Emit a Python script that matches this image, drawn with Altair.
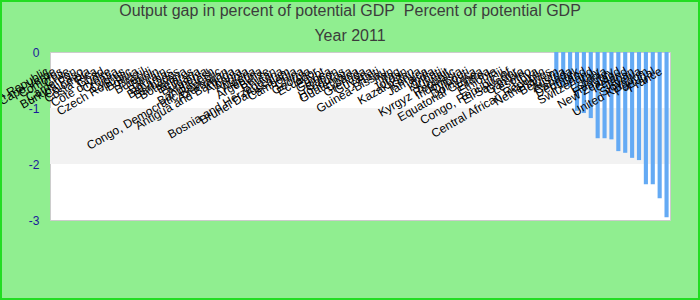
import altair as alt
import pandas as pd

# Countries without a 2011 value (shown only as labels)
no_data_countries = [
    "Dominican Republic", "Cape Verde", "Comoros", "Chile", "Cameroon",
    "Burkina Faso", "Colombia", "Costa Rica", "Chad", "Côte d'Ivoire",
    "Croatia", "Cyprus", "Czech Republic", "Bolivia", "Brazil",
    "Burundi", "Benin", "Bahrain", "Bahamas", "Barbados",
    "Botswana", "Belarus", "Bulgaria", "Armenia", "Bangladesh",
    "Congo, Democratic Republic", "Azerbaijan", "Antigua and Barbuda", "Albania", "Angola",
    "Algeria", "Argentina", "Belize", "Bhutan", "Bosnia and Herzegovina",
    "Brunei Darussalam", "Cambodia", "China", "Georgia", "Ecuador",
    "Egypt", "Guinea", "Gabon", "Honduras", "Guatemala",
    "Ghana", "Grenada", "Guyana", "Haiti", "Guinea-Bissau",
    "Iran", "Iraq", "Jordan", "Kazakhstan", "Kenya",
    "Jamaica", "India", "Kiribati", "Kuwait", "Kyrgyz Republic",
    "Indonesia", "Djibouti", "Dominica", "Equatorial Guinea", "Eritrea",
    "Ethiopia", "Fiji", "Congo, Republic of", "El Salvador", "Gambia",
    "Lesotho", "Libya", "Central African Republic",
]

# Countries with an output gap value (percent of potential GDP)
bar_countries = [
    "Netherlands", "Belgium", "Austria", "Canada", "Denmark",
    "Finland", "Switzerland", "Italy", "Estonia", "Hungary",
    "New Zealand", "Iceland", "Japan", "Slovenia", "United Kingdom",
    "Portugal", "France",
]
bar_values = [
    -0.60, -0.61, -0.62, -1.05, -1.09,
    -1.18, -1.54, -1.54, -1.56, -1.77,
    -1.80, -1.89, -1.93, -2.36, -2.36,
    -2.61, -2.95,
]

y_ticks = [0, -1, -2, -3]
band_from = [-1]
band_to = [-2]

title_text = ["Output gap in percent of potential GDP\u00a0 Percent of potential GDP"]
subtitle_text = ["Year 2011"]

countries = no_data_countries + bar_countries
df = pd.DataFrame({
    "country": countries,
    "gap": [None] * len(no_data_countries) + bar_values,
})
bands = pd.DataFrame({"y1": band_from, "y2": band_to})
title_df = pd.DataFrame({"t": title_text})
subtitle_df = pd.DataFrame({"t": subtitle_text})

FONT = "Liberation Sans"

x_scale = alt.Scale(domain=countries, paddingInner=0.4, paddingOuter=0.2)
y_scale = alt.Scale(domain=[-3, 0], nice=False, zero=True)
y_axis = alt.Axis(
    values=y_ticks, labelExpr="'' + datum.value", labelColor="#1a1a9a",
    labelFontSize=12, labelFont=FONT, ticks=False, tickSize=0, domain=False,
    grid=False, title=None, labelPadding=11, labelFlush=False,
)

band_layer = alt.Chart(bands).mark_rect(color="#f2f2f2").encode(
    y=alt.Y("y1:Q", scale=y_scale, axis=y_axis),
    y2="y2:Q",
)

bars = alt.Chart(df).mark_bar(color="#64aaf4").encode(
    x=alt.X("country:N", scale=x_scale, axis=None, sort=countries),
    y=alt.Y("gap:Q", scale=y_scale, axis=y_axis),
)

labels = alt.Chart(df).mark_text(
    angle=330, align="right", baseline="middle", dx=-14, dy=13,
    fontSize=12, font=FONT, color="#000000",
).encode(
    x=alt.X("country:N", scale=x_scale, axis=None, sort=countries),
    y=alt.datum(0),
    text="country:N",
)

title_layer = alt.Chart(title_df).mark_text(
    align="center", baseline="alphabetic", fontSize=16, font=FONT,
    color="#3c3c3c", clip=False,
).encode(x=alt.value(300), y=alt.value(-36), text="t:N")

subtitle_layer = alt.Chart(subtitle_df).mark_text(
    align="center", baseline="alphabetic", fontSize=16, font=FONT,
    color="#3c3c3c", clip=False,
).encode(x=alt.value(300), y=alt.value(-11), text="t:N")

border = alt.Chart(bands).mark_rect(
    fill="transparent", stroke="#22dd22", strokeWidth=2, clip=False,
).encode(
    x=alt.value(-49), x2=alt.value(649), y=alt.value(-51), y2=alt.value(247),
)

chart = alt.layer(
    band_layer, bars, labels, title_layer, subtitle_layer, border
).properties(
    width=620,
    height=168,
    autosize="none",
    padding={"left": 50, "top": 52, "right": 30, "bottom": 80},
    background="#90ee90",
).configure_view(fill="white", stroke="#cccccc", strokeWidth=1)

chart.save("out.html", embed_options={"renderer": "svg", "actions": False})
